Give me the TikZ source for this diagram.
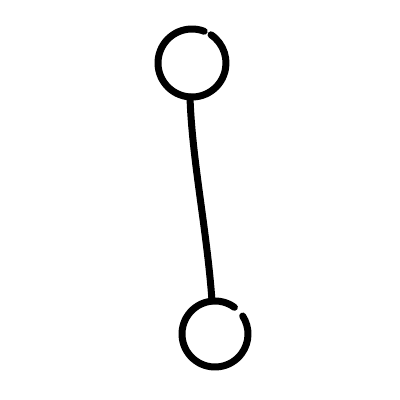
\documentclass[tikz,border=0pt]{standalone}
\begin{document}
\begin{tikzpicture}[x=1pt,y=1pt,
  ink/.style={line width=7pt,line cap=round,line join=round,black}]
\useasboundingbox[fill=white] (0,0) rectangle (400,400);
\coordinate (topc) at (192,337);
\coordinate (botc) at (215,66);
\coordinate (topend) at (190,303);
\coordinate (botend) at (212,99);
\draw[ink] (topc) ++(69:34) arc[start angle=69,end angle=416,radius=34];
\draw[ink] (botc) ++(54:33) arc[start angle=54,end angle=393,radius=33];
\draw[ink] (topend) .. controls (192,240) and (207,170) .. (botend);
\end{tikzpicture}
\end{document}
